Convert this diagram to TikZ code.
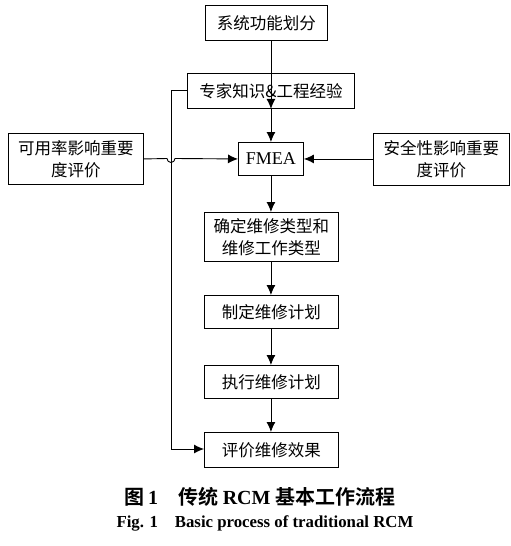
\documentclass[tikz,border=0pt]{standalone}
\usepackage{fontspec}
\setmainfont{Liberation Serif}
\newfontfamily\cjk{Noto Sans CJK SC}
\newfontfamily\cjkb{Noto Sans CJK SC Bold}
\usetikzlibrary{arrows.meta}
\begin{document}
\begin{tikzpicture}[x=1pt,y=-1pt,
  box/.style={draw,line width=0.9pt,inner sep=0pt,anchor=north west,align=center,font=\cjk\fontsize{16.5}{22}\selectfont},
  arr/.style={line width=0.9pt,-{Latex[length=10pt,width=9pt]}},
  ln/.style={line width=0.9pt}]
\useasboundingbox (0,0) rectangle (511,546);
\node[box,minimum width=122pt,minimum height=35pt] (b1) at (205,5) {系统功能划分};
\node[box,minimum width=167pt,minimum height=35pt] (b2) at (187,73) {专家知识\&工程经验};
\node[box,minimum width=65pt,minimum height=33pt,font=\fontsize{18}{20}\selectfont] (fm) at (238,142) {FMEA};
\node[box,minimum width=135pt,minimum height=51pt] (lb) at (8,133) {可用率影响重要\\度评价};
\node[box,minimum width=136pt,minimum height=52pt] (rb) at (373,133) {安全性影响重要\\度评价};
\node[box,minimum width=134pt,minimum height=49pt] (b3) at (204,212) {确定维修类型和\\维修工作类型};
\node[box,minimum width=134pt,minimum height=33pt] (b4) at (204,295) {制定维修计划};
\node[box,minimum width=134pt,minimum height=33pt] (b5) at (204,365) {执行维修计划};
\node[box,minimum width=134pt,minimum height=35pt] (b6) at (204,432) {评价维修效果};
\coordinate (c1) at (171,90);
\coordinate (c2) at (171,449);
\draw[arr] (b1.south -| fm.north) -- (b2.south -| fm.north);
\draw[arr] (b2.south -| fm.north) -- (fm.north);
\draw[arr] (fm.south) -- (b3.north -| fm.south);
\draw[arr] (b3.south -| fm.south) -- (b4.north -| fm.south);
\draw[arr] (b4.south -| fm.south) -- (b5.north -| fm.south);
\draw[arr] (b5.south -| fm.south) -- (b6.north -| fm.south);
\draw[arr] (b2.west |- c1) -- (c1) -- (c2) -- (b6.west |- c2);
\draw[arr] (lb.east |- fm.west) -- (167,158.5) arc[start angle=180,end angle=0,radius=4] -- (fm.west);
\draw[arr] (rb.west |- fm.east) -- (fm.east);
\node[font=\cjkb\fontsize{20}{24}\selectfont] (cap1) at (260,497) {图\,{\fontspec{Liberation Serif}\bfseries 1}\quad 传统 {\fontspec{Liberation Serif}\bfseries RCM} 基本工作流程};
\node[font=\fontsize{16.8}{20}\selectfont\bfseries] (cap2) at (265,523) {Fig. 1\quad Basic process of traditional RCM};
\end{tikzpicture}
\end{document}
